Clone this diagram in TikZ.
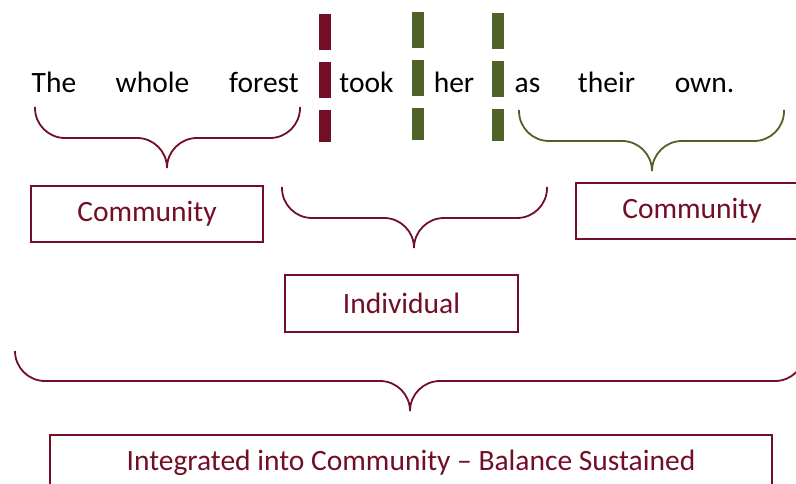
\documentclass[tikz,border=0pt]{standalone}
\usepackage{fontspec}
\setmainfont{Carlito}

\definecolor{wine}{HTML}{720E26}
\definecolor{olive}{HTML}{4F6228}

\begin{document}
\begin{tikzpicture}[x=1pt,y=-1pt,
  every node/.style={font=\fontsize{29.5}{34}\selectfont},
  word/.style={anchor=base},
  label box/.style={draw=wine,line width=1.4pt,text=wine,minimum width=232pt,minimum height=56pt,inner sep=0pt},
  brace/.style={line width=1.8pt,rounded corners=30pt},
  bar/.style={line width=12pt,dash pattern=on 36pt off 12pt}]

\useasboundingbox (0,0) rectangle (796,484);
\clip (0,0) rectangle (796,484);

\node[word] (the) at (54,93) {The};
\node[word] (whole) at (152.5,93) {whole};
\node[word] (forest) at (264,93) {forest};
\node[word] (took) at (366.5,93) {took};
\node[word] (her) at (454,93) {her};
\node[word] (as) at (527.5,93) {as};
\node[word] (their) at (606.5,93) {their};
\node[word] (own) at (704.5,93) {own.};

\draw[bar,wine] (325,14) -- (325,142);
\draw[bar,olive] (417.5,12) -- (417.5,140);
\draw[bar,olive] (497.5,13) -- (497.5,141);

\draw[brace,wine] (35,107) -- (35,138) -- (167,138) -- (167,168);
\draw[brace,wine] (300,107) -- (300,138) -- (167,138) -- (167,168);

\draw[brace,olive] (519,110) -- (519,141) -- (652,141) -- (652,171);
\draw[brace,olive] (784,110) -- (784,141) -- (652,141) -- (652,171);

\node[label box] (community1) at (147,214) {Community};
\node[label box] (community2) at (692,211) {Community};

\draw[brace,wine] (282,187) -- (282,218) -- (414,218) -- (414,248);
\draw[brace,wine] (547,187) -- (547,218) -- (414,218) -- (414,248);

\node[label box,minimum width=233pt,minimum height=57pt] (individual) at (401.5,303.5) {Individual};

\draw[brace,wine] (15,351) -- (15,381) -- (410,381) -- (410,411);
\draw[brace,wine] (805,351) -- (805,381) -- (410,381) -- (410,411);

\node[label box,minimum width=722pt] (balance) at (411,463) {Integrated into Community -- Balance Sustained};

\end{tikzpicture}
\end{document}
